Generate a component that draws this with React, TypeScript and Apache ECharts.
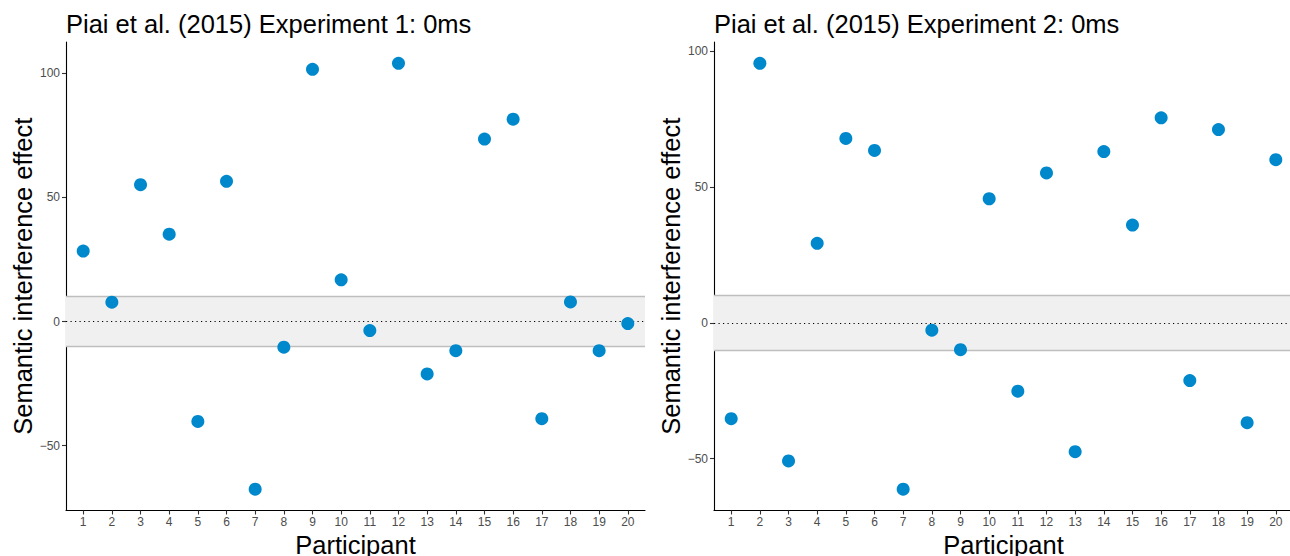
import React, { useEffect, useRef } from "react";
import * as echarts from "echarts";

const participants = [1, 2, 3, 4, 5, 6, 7, 8, 9, 10, 11, 12, 13, 14, 15, 16, 17, 18, 19, 20];
const exp1Effects = [28.4, 7.8, 55.1, 35.2, -40.2, 56.5, -67.5, -10.3, 101.6, 16.8, -3.6, 104.0, -21.1, -11.7, 73.5, 81.5, -39.1, 7.9, -11.7, -0.8];
const exp2Effects = [-35.3, 95.6, -50.9, 29.3, 67.9, 63.5, -61.3, -2.7, -9.9, 45.7, -25.2, 55.2, -47.5, 63.1, 36.0, 75.5, -21.3, 71.2, -36.8, 60.1];
const panelTitles = ["Piai et al. (2015) Experiment 1: 0ms", "Piai et al. (2015) Experiment 2: 0ms"];
const yTickValues = [-50, 0, 50, 100];
const bandLower = -10;
const bandUpper = 10;
const xAxisTitle = "Participant";
const yAxisTitle = "Semantic interference effect";

const FONT = "'Liberation Sans', Arial, Helvetica, sans-serif";

function expandRange(vals: number[]): [number, number] {
  const mn = Math.min(...vals);
  const mx = Math.max(...vals);
  const r = mx - mn;
  return [mn - 0.05 * r, mx + 0.05 * r];
}

function fmtNum(v: number): string {
  return v < 0 ? "\u2212" + Math.abs(v) : String(v);
}

export default function App() {
  const ref = useRef<HTMLDivElement>(null);
  useEffect(() => {
    if (!ref.current) return;
    const chart = echarts.init(ref.current, null, { renderer: "svg" });
    const panels = [exp1Effects, exp2Effects];
    const lefts = [66, 714];
    const option: any = {
      animation: false,
      backgroundColor: "#ffffff",
      title: panels.map((_, i) => ({
        text: panelTitles[i],
        left: lefts[i],
        top: 11,
        padding: 0,
        textStyle: { fontFamily: FONT, fontSize: 25.5, fontWeight: "normal", color: "#000000" },
      })),
      grid: panels.map((_, i) => ({
        left: lefts[i],
        top: 42,
        width: 579,
        height: 468.5,
        containLabel: false,
        outerBoundsMode: "none",
      })),
      xAxis: panels.map((_, i) => ({
        type: "value",
        gridIndex: i,
        min: 0.4,
        max: 20.6,
        name: xAxisTitle,
        nameLocation: "middle",
        nameGap: 18,
        nameTextStyle: { fontFamily: FONT, fontSize: 25.5, color: "#000000" },
        axisLine: { show: true, onZero: false, lineStyle: { color: "#000000", width: 1.1 } },
        axisTick: { show: true, customValues: participants, length: 4, lineStyle: { color: "#333333", width: 1.1 } },
        axisLabel: { customValues: participants, margin: 5, color: "#4D4D4D", fontSize: 12, fontFamily: FONT },
        splitLine: { show: false },
      })),
      yAxis: panels.map((vals, i) => {
        const [mn, mx] = expandRange(vals);
        return {
          type: "value",
          gridIndex: i,
          min: mn,
          max: mx,
          name: yAxisTitle,
          nameLocation: "middle",
          nameGap: 30,
          nameTextStyle: { fontFamily: FONT, fontSize: 25.5, color: "#000000" },
          axisLine: { show: true, onZero: false, lineStyle: { color: "#000000", width: 1.1 } },
          axisTick: { show: true, customValues: yTickValues, length: 4, lineStyle: { color: "#333333", width: 1.1 } },
          axisLabel: {
            customValues: yTickValues,
            margin: 6,
            color: "#4D4D4D",
            fontSize: 12,
            fontFamily: FONT,
            formatter: (v: number) => fmtNum(v),
          },
          splitLine: { show: false },
        };
      }),
      series: panels.map((vals, i) => ({
        type: "scatter",
        xAxisIndex: i,
        yAxisIndex: i,
        symbol: "circle",
        symbolSize: 13,
        itemStyle: { color: "#0088CC", opacity: 1 },
        silent: true,
        z: 5,
        data: participants.map((p, k) => [p, vals[k]]),
        markArea: {
          silent: true,
          itemStyle: { color: "#F0F0F0" },
          data: [[{ yAxis: bandLower }, { yAxis: bandUpper }]],
        },
        markLine: {
          silent: true,
          symbol: ["none", "none"],
          label: { show: false },
          data: [
            { yAxis: bandUpper, lineStyle: { color: "#BEBEBE", width: 1.4, type: "solid" } },
            { yAxis: bandLower, lineStyle: { color: "#BEBEBE", width: 1.4, type: "solid" } },
            { yAxis: 0, lineStyle: { color: "#000000", width: 1.2, type: [1.2, 3.3] } },
          ],
        },
      })),
    };
    chart.setOption(option);
    return () => chart.dispose();
  }, []);
  return (
    <div
      ref={ref}
      style={{ position: "absolute", left: 0, top: 0, width: 1290, height: 556 }}
    />
  );
}
